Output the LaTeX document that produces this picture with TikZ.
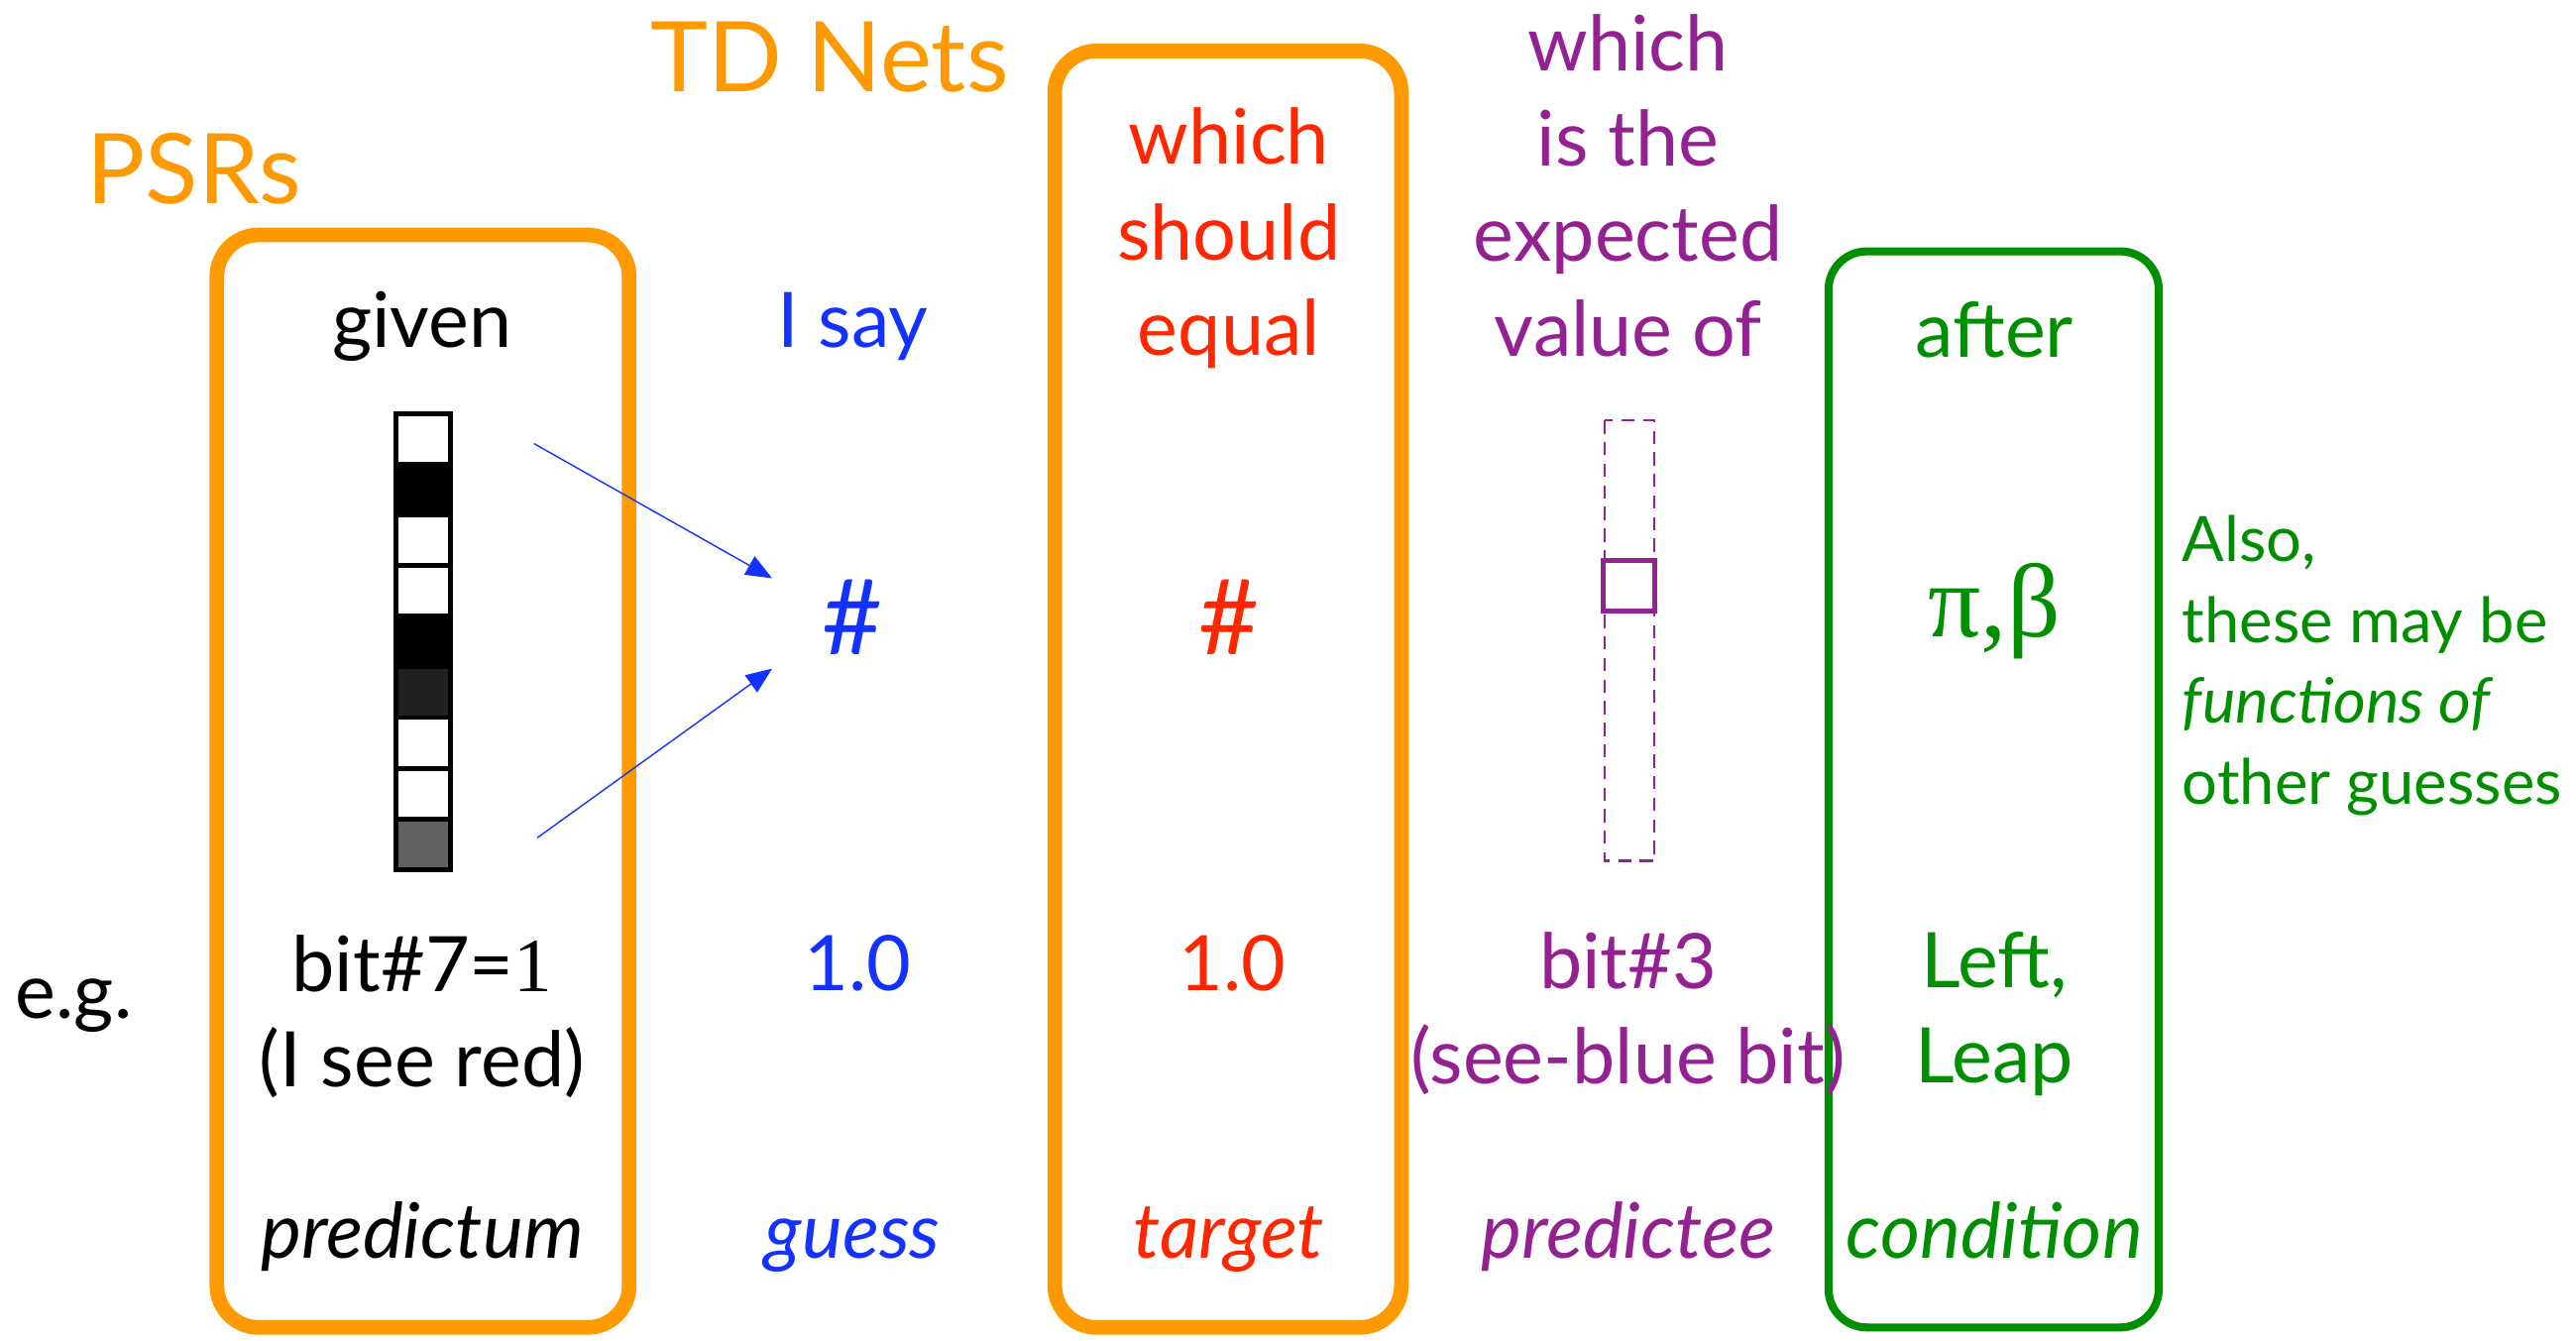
\documentclass[tikz,border=0pt]{standalone}
\usepackage{fontspec}
\setmainfont{Lato}
\newfontfamily\serifnum{Liberation Serif}
\usetikzlibrary{arrows.meta}
\definecolor{psrorange}{RGB}{255,153,0}
\definecolor{guessblue}{RGB}{20,50,255}
\definecolor{targetred}{RGB}{255,38,0}
\definecolor{teepurple}{RGB}{148,33,146}
\definecolor{condgreen}{RGB}{0,143,0}

\begin{document}
\begin{tikzpicture}[x=0.016582cm, y=-0.016582cm,
  word/.style={align=center, inner sep=0pt, font=\fontsize{22}{27.4}\selectfont},
  role/.style={word, anchor=base, font=\fontsize{22}{27.4}\selectfont\itshape},
  hash/.style={inner sep=0pt, font=\fontsize{30}{36}\selectfont},
  title/.style={inner sep=0pt, text=psrorange, font=\fontsize{28}{33}\selectfont},
  hbox/.style={draw=psrorange, line width=4.2pt, rounded corners=12pt},
  cbox/.style={draw=condgreen, line width=2.3pt, rounded corners=11pt},
  cell/.style={draw=black, line width=1.4pt},
  >={Triangle[length=7.5pt,width=6pt]}, thin
]
  \useasboundingbox (0,0) rectangle (1568,816);

  \node[title] (psr) at (118,103) {PSRs};
  \node[title] (tdn) at (505,35) {TD Nets};
  \draw[hbox] (132,143) rectangle (383,808);
  \draw[hbox] (642,31) rectangle (853,808);
  \draw[cbox] (1113,153) rectangle (1314,808);

  % top row
  \node[word] (given) at (257,199) {given};
  \node[word, text=guessblue] (isay) at (519,199) {I say};
  \node[word, text=targetred] (should) at (748,145) {which\\should\\equal};
  \node[word, text=teepurple] (expval) at (991,113) {which\\is the\\expected\\value of};
  \node[word, text=condgreen] (after) at (1214,201) {after};

  % bit vector
  \foreach \g [count=\i from 0] in {white,black,white,white,black,black!87,white,white,black!62}
    \draw[cell, fill=\g] (241,{252+30.8*\i}) rectangle ++(33,30.8);
  \coordinate (bitTop) at (325,270);
  \coordinate (bitBot) at (327,510);
  \coordinate (hashIn1) at (470,352);
  \coordinate (hashIn2) at (470,407);
  \draw[->, guessblue] (bitTop) -- (hashIn1);
  \draw[->, guessblue] (bitBot) -- (hashIn2);

  \node[hash, text=guessblue] (hashG) at (519,376) {\#};
  \node[hash, text=targetred] (hashT) at (748,376) {\#};
  \draw[teepurple, line width=0.6pt, dash pattern=on 3.8pt off 2.4pt] (977,256) rectangle (1007,524);
  \draw[teepurple, line width=1.4pt] (976,341) rectangle (1007,372);
  \node[text=condgreen, inner sep=0pt, font=\fontsize{30}{36}\selectfont\serifnum] (pibeta) at (1214,372) {π,β};

  \node[word, text=condgreen, align=left, anchor=west, font=\fontsize{18}{23.2}\selectfont] (also) at (1328,405)
    {Also,\\these may be\\\textit{functions of}\\other guesses};

  % examples
  \node[word] (eg) at (45,612) {e.g.};
  \node[word] (bit7) at (257,619) {bit\#7={\serifnum 1}\\(I see red)};
  \node[word, text=guessblue] (oneG) at (522,586) {1.0};
  \node[word, text=targetred] (oneT) at (750,586) {1.0};
  \node[word, text=teepurple] (bit3) at (991,617) {bit\#3\\(see-blue bit)};
  \node[word, text=condgreen] (leftleap) at (1214,617) {Left,\\Leap};

  % roles
  \node[role] (predictum) at (257,766) {predictum};
  \node[role, text=guessblue] (guess) at (519,766) {guess};
  \node[role, text=targetred] (target) at (748,766) {target};
  \node[role, text=teepurple] (predictee) at (991,766) {predictee};
  \node[role, text=condgreen] (condition) at (1214,766) {condition};
\end{tikzpicture}
\end{document}
